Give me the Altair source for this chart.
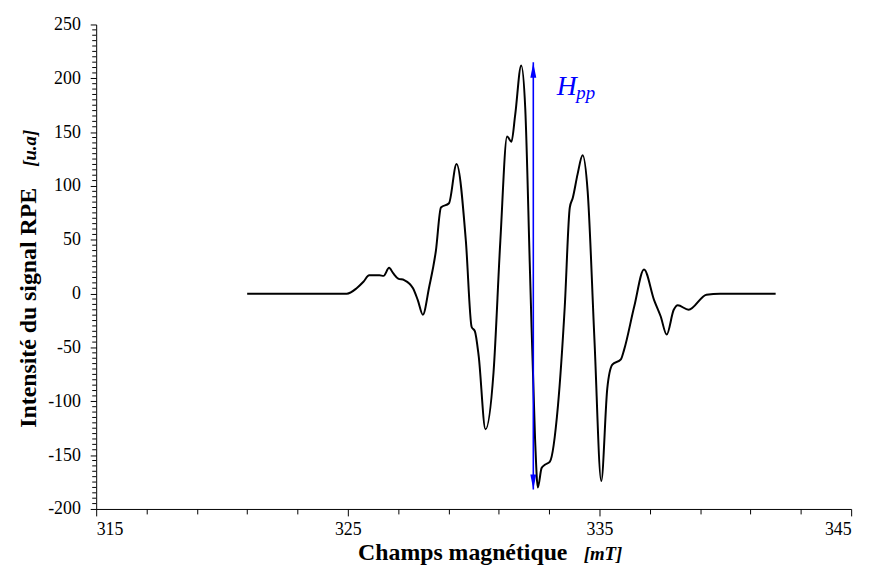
import altair as alt
import pandas as pd

# ---- data ----
field_mT = [321.0, 322.0, 323.0, 324.0, 324.96, 325.35, 325.62, 325.85, 326.26, 326.42,
            326.64, 326.80, 327.0, 327.24, 327.59, 327.78, 327.98, 328.23, 328.50, 328.70,
            329.02, 329.32, 329.69, 329.92, 330.05, 330.20, 330.47, 330.79, 331.06, 331.33,
            331.50, 331.65, 331.89, 332.05, 332.24, 332.44, 332.55, 332.70, 332.83, 333.03,
            333.35, 333.62, 333.82, 333.94, 334.13, 334.33, 334.53, 334.80, 335.07, 335.31,
            335.51, 335.85, 335.98, 336.38, 336.77, 337.17, 337.43, 337.67, 337.95, 338.11,
            338.54, 339.25, 339.79, 340.5, 341.2, 342.0]
signal = [0, 0, 0, 0, 0, 5, 11, 17, 17, 16.5,
          24, 19, 14, 12.6, 5, -6, -19.6, 6, 40, 80,
          84, 120.5, 49, -31, -35, -58, -126, -73, 49, 146,
          141, 166, 212, 172, 19, -135, -180, -162, -159, -156,
          -104, -12, 80, 89, 111, 128.5, 95, -43, -174, -88,
          -66, -61, -52, -12, 22.5, -6, -21, -38, -15, -10.7,
          -15, -1, 0, 0, 0, 0]

arrow_x = [332.37]
arrow_top = [215]
arrow_bottom = [-182]
arrow_head_top = [207.5]
arrow_head_bottom = [-175]

x_ticks = list(range(315, 346))
y_major = list(range(-200, 251, 50))
y_minor = [v for v in range(-200, 251, 5) if v % 50 != 0]

df = pd.DataFrame({"B": field_mT, "I": signal})
arrow_df = pd.DataFrame({"B": arrow_x, "top": arrow_top, "bottom": arrow_bottom})
head_top_df = pd.DataFrame({"B": arrow_x, "I": arrow_head_top})
head_bot_df = pd.DataFrame({"B": arrow_x, "I": arrow_head_bottom})
h_df = pd.DataFrame({"B": [333.3], "I": [184.6], "t": ["H"]})
pp_df = pd.DataFrame({"B": [334.08], "I": [180.5], "t": ["pp"]})
minor_df = pd.DataFrame({"v": y_minor})

SERIF = "Liberation Serif"

xscale = alt.Scale(domain=[315, 345], nice=False, zero=False)
yscale = alt.Scale(domain=[-200, 250], nice=False)

x_axis = alt.Axis(
    values=x_ticks, title=None, grid=False,
    labelExpr="(datum.value - 315) % 10 == 0 ? datum.label : ''",
    labelOverlap=False, labelFont=SERIF, labelFontSize=18, labelColor="black",
    labelPadding=5, domainColor="black", tickColor="black",
    tickSize={"condition": {"test": "(datum.value - 315) % 10 == 0", "value": 7}, "value": 5},
)
y_axis = alt.Axis(
    values=y_major, title=None, grid=False,
    labelExpr="datum.value < 0 ? '-' + format(-datum.value, 'd') : format(datum.value, 'd')",
    labelOverlap=False, labelFont=SERIF, labelFontSize=18, labelColor="black",
    labelPadding=10, domainColor="black", tickColor="black", tickSize=6,
)

line = alt.Chart(df).mark_line(color="black", strokeWidth=2, interpolate="monotone").encode(
    x=alt.X("B:Q", scale=xscale, axis=x_axis),
    y=alt.Y("I:Q", scale=yscale, axis=y_axis),
)

minor = alt.Chart(minor_df).mark_rule(color="black", strokeWidth=1).encode(
    y=alt.Y("v:Q"), x=alt.value(-4), x2=alt.value(0)
)

rule = alt.Chart(arrow_df).mark_rule(color="#0000FF", strokeWidth=1.6).encode(
    x="B:Q", y="top:Q", y2="bottom:Q"
)
head_up = alt.Chart(head_top_df).mark_point(
    shape="M0,-1L0.4,1L-0.4,1Z", filled=True, size=225, color="#0000FF", opacity=1
).encode(x="B:Q", y="I:Q")
head_down = alt.Chart(head_bot_df).mark_point(
    shape="M0,1L0.4,-1L-0.4,-1Z", filled=True, size=225, color="#0000FF", opacity=1
).encode(x="B:Q", y="I:Q")

h_text = alt.Chart(h_df).mark_text(
    font=SERIF, fontStyle="italic", fontSize=28, color="#0000FF", align="left", baseline="alphabetic"
).encode(x="B:Q", y="I:Q", text="t:N")
pp_text = alt.Chart(pp_df).mark_text(
    font=SERIF, fontStyle="italic", fontSize=19, color="#0000FF", align="left", baseline="alphabetic"
).encode(x="B:Q", y="I:Q", text="t:N")

title_df = pd.DataFrame({"a": [0]})
xt = alt.Chart(title_df).mark_text(
    font=SERIF, fontWeight="bold", fontSize=24, color="black", align="center", baseline="alphabetic", text="Champs magnétique"
).encode(x=alt.value(370), y=alt.value(541))
xt2 = alt.Chart(title_df).mark_text(
    font=SERIF, fontWeight="bold", fontStyle="italic", fontSize=19, color="black", align="left", baseline="alphabetic", text="[mT]"
).encode(x=alt.value(492), y=alt.value(541))
yt = alt.Chart(title_df).mark_text(
    font=SERIF, fontWeight="bold", fontSize=24, color="black", align="center", baseline="alphabetic",
    angle=270, text="Intensité du signal RPE"
).encode(x=alt.value(-61), y=alt.value(286))
yt2 = alt.Chart(title_df).mark_text(
    font=SERIF, fontWeight="bold", fontStyle="italic", fontSize=19, color="black", align="center", baseline="alphabetic",
    angle=270, text="[u.a]"
).encode(x=alt.value(-61), y=alt.value(125))

chart = alt.layer(line, minor, rule, head_up, head_down, h_text, pp_text, xt, xt2, yt, yt2).properties(
    width=762, height=489,
    autosize=alt.AutoSizeParams(type="none"),
    padding={"left": 89, "top": 14, "right": 16, "bottom": 62},
    background="white",
).configure_view(stroke=None)

chart.save("out.html", embed_options={"renderer": "svg", "actions": False})
